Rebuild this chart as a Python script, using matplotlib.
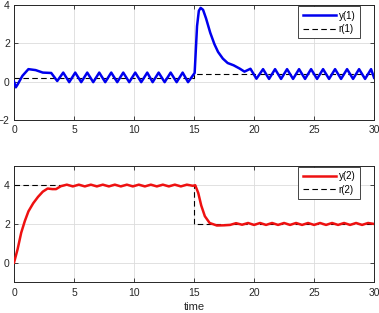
import matplotlib
matplotlib.use('Agg')
import matplotlib.pyplot as plt

# данные
t_y1 = [0.0, 0.15, 0.3, 0.7, 1.2, 1.8, 2.4, 3.1, 3.6,
        4.1, 4.6, 5.1, 5.6, 6.1, 6.6, 7.1, 7.6, 8.1, 8.6, 9.1, 9.6,
        10.1, 10.6, 11.1, 11.55, 12.05, 12.55, 13.05, 13.55, 14.05, 14.5, 15.05,
        15.25, 15.4, 15.55, 15.75, 16.0, 16.35, 16.7, 17.0, 17.4, 17.8, 18.3,
        18.8, 19.2, 19.7, 20.2,
        20.75, 21.25, 21.75, 22.25, 22.75, 23.25, 23.75, 24.25, 24.75, 25.25,
        25.75, 26.25, 26.75, 27.25, 27.75, 28.25, 28.75, 29.25, 29.75, 30.0]
y1 = [0.0, -0.3, -0.15, 0.3, 0.65, 0.6, 0.47, 0.45, 0.03,
      0.47, -0.03, 0.47, -0.03, 0.47, -0.03, 0.47, -0.03, 0.47, -0.03, 0.47, -0.03,
      0.47, -0.03, 0.47, -0.03, 0.47, -0.03, 0.47, -0.03, 0.47, -0.03, 0.45,
      2.9, 3.7, 3.85, 3.75, 3.3, 2.55, 1.95, 1.55, 1.2, 0.97, 0.85,
      0.68, 0.52, 0.67, 0.15,
      0.65, 0.14, 0.65, 0.14, 0.65, 0.14, 0.65, 0.14, 0.65, 0.14,
      0.65, 0.14, 0.65, 0.14, 0.65, 0.14, 0.65, 0.14, 0.65, 0.2]
t_r1 = [0, 15, 15, 30]
r1 = [0.2, 0.2, 0.4, 0.4]

t_y2 = [0.0, 0.3, 0.6, 0.9, 1.2, 1.6, 2.0, 2.4, 2.8, 3.2, 3.5, 3.9,
        4.4, 4.9, 5.4, 5.9, 6.4, 6.9, 7.4, 7.9, 8.4, 8.9, 9.4, 9.9,
        10.4, 10.9, 11.4, 11.9, 12.4, 12.9, 13.4, 13.9, 14.4, 14.9,
        15.1, 15.35, 15.6, 15.9, 16.3, 16.9, 17.5, 18.0,
        18.5, 19.0, 19.5, 20.0, 20.5, 21.0, 21.5, 22.0, 22.5, 23.0, 23.5, 24.0,
        24.5, 25.0, 25.5, 26.0, 26.5, 27.0, 27.5, 28.0, 28.5, 29.0, 29.5, 30.0]
y2 = [0.0, 0.7, 1.55, 2.15, 2.65, 3.07, 3.4, 3.67, 3.83, 3.8, 3.8, 3.95,
      4.03, 3.94, 4.03, 3.94, 4.03, 3.94, 4.03, 3.94, 4.03, 3.94, 4.03, 3.94,
      4.03, 3.94, 4.03, 3.94, 4.03, 3.94, 4.03, 3.94, 4.03, 3.97,
      4.0, 3.6, 2.95, 2.4, 2.05, 1.92, 1.93, 1.95,
      2.04, 1.96, 2.05, 1.95, 2.05, 1.95, 2.05, 1.95, 2.05, 1.95, 2.05, 1.95,
      2.05, 1.95, 2.05, 1.95, 2.05, 1.95, 2.05, 1.95, 2.05, 1.95, 2.05, 2.0]
t_r2 = [0, 15, 15, 30]
r2 = [4, 4, 2, 2]

x_ticks = [0, 5, 10, 15, 20, 25, 30]

plt.rcParams['font.family'] = ['Liberation Sans', 'DejaVu Sans']

fig = plt.figure(figsize=(3.79, 3.13), dpi=100)
ax1 = fig.add_axes([0.037, 0.617, 0.950, 0.367])
ax2 = fig.add_axes([0.037, 0.099, 0.950, 0.371])


def style(ax, yl, yt):
    ax.set_xlim(0, 30)
    ax.set_ylim(*yl)
    ax.set_xticks(x_ticks)
    ax.set_yticks(yt)
    ax.grid(True, color='#dcdcdc', lw=0.6)
    ax.set_axisbelow(True)
    ax.tick_params(direction='in', top=True, right=True, length=3, width=0.6,
                   labelsize=7.5, colors='#262626')
    ax.tick_params(axis='x', pad=4)
    ax.tick_params(axis='y', pad=3)
    for s in ax.spines.values():
        s.set_color('#262626')
        s.set_linewidth(0.7)


ax1.plot(t_y1, y1, color='#0000ee', lw=1.8, label='y(1)', zorder=3)
ax1.plot(t_r1, r1, '--', color='black', lw=0.8, label='r(1)', dashes=(5, 3), zorder=2)
style(ax1, (-2, 4), [-2, 0, 2, 4])

ax2.plot(t_y2, y2, color='#ee1111', lw=1.8, label='y(2)', zorder=3)
ax2.plot(t_r2, r2, '--', color='black', lw=0.8, label='r(2)', dashes=(5, 3), zorder=2)
style(ax2, (-1, 5), [0, 2, 4])
ax2.set_xlabel('time', fontsize=8, labelpad=3, color='#262626')

for ax in (ax1, ax2):
    leg = ax.legend(loc='upper right', bbox_to_anchor=(0.96, 0.99), fontsize=7,
                    handlelength=3.4, fancybox=False, framealpha=1,
                    edgecolor='#262626', borderpad=0.45, labelspacing=0.35,
                    handletextpad=0.3, borderaxespad=0.0)
    leg.get_frame().set_linewidth(0.6)

fig.savefig('out.png', dpi=100)
